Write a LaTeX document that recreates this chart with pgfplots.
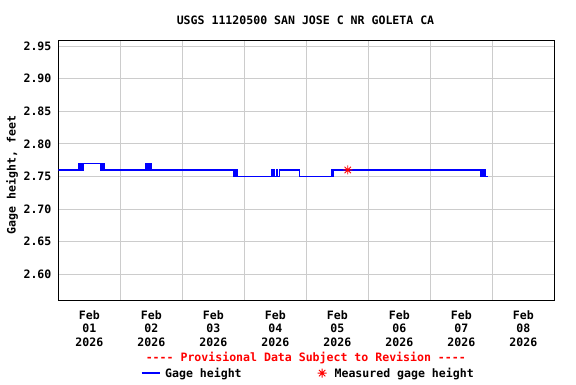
\documentclass[border=0pt]{standalone}
\usepackage{fontspec}
\setmainfont{DejaVu Sans Mono}[Ligatures=TeXOff]
\usepackage{pgfplots}
\pgfplotsset{compat=1.18}
\definecolor{gridgray}{RGB}{204,204,204}
\pgfdeclareplotmark{ast8}{%
  \pgfpathmoveto{\pgfqpoint{-\pgfplotmarksize}{0pt}}\pgfpathlineto{\pgfqpoint{\pgfplotmarksize}{0pt}}%
  \pgfpathmoveto{\pgfqpoint{0pt}{-\pgfplotmarksize}}\pgfpathlineto{\pgfqpoint{0pt}{\pgfplotmarksize}}%
  \pgfpathmoveto{\pgfqpoint{-0.707\pgfplotmarksize}{-0.707\pgfplotmarksize}}\pgfpathlineto{\pgfqpoint{0.707\pgfplotmarksize}{0.707\pgfplotmarksize}}%
  \pgfpathmoveto{\pgfqpoint{-0.707\pgfplotmarksize}{0.707\pgfplotmarksize}}\pgfpathlineto{\pgfqpoint{0.707\pgfplotmarksize}{-0.707\pgfplotmarksize}}%
  \pgfusepathqstroke}
\begin{document}
\begin{tikzpicture}[x=1bp,y=1bp,font=\fontsize{11.6}{13.5}\selectfont\bfseries]
\path[use as bounding box] (0,0) rectangle (576,384);
\begin{axis}[
  at={(58.4bp,84bp)}, anchor=south west,
  scale only axis, width=495.9bp, height=260bp,
  xmin=0, xmax=8, ymin=2.5606, ymax=2.9592,
  axis line style={black, line width=0.9bp},
  xtick={0.5,1.5,2.5,3.5,4.5,5.5,6.5,7.5},
  xticklabels={{Feb\\01\\2026},{Feb\\02\\2026},{Feb\\03\\2026},{Feb\\04\\2026},{Feb\\05\\2026},{Feb\\06\\2026},{Feb\\07\\2026},{Feb\\08\\2026}},
  xticklabel style={align=center, yshift=-7bp},
  minor xtick={1,2,3,4,5,6,7},
  xminorgrids=true, xmajorgrids=false, ymajorgrids=true,
  grid style={gridgray, line width=0.9bp},
  minor grid style={gridgray, line width=0.9bp},
  ytick={2.60,2.65,2.70,2.75,2.80,2.85,2.90,2.95},
  yticklabel style={/pgf/number format/fixed, /pgf/number format/fixed zerofill, /pgf/number format/precision=2, xshift=-3.5bp},
  /pgf/number format/assume math mode=true,
  major tick length=0pt, minor tick length=0pt,
  legend style={draw=none, fill=none, inner sep=0pt, at={(0.166,-0.281)}, anchor=west, legend columns=2,
    /tikz/every odd column/.append style={column sep=3bp},
    /tikz/every even column/.append style={column sep=71bp}},
  legend cell align=left,
]
\addplot[const plot, blue, line width=1.25bp,
  legend image code/.code={\draw[blue, line width=1.25bp] (0bp,0bp) -- (18bp,0bp);}] coordinates {
(0,2.76) (0.333,2.77) (0.344,2.76) (0.354,2.77) (0.365,2.76) (0.375,2.77) (0.385,2.76) (0.396,2.77)
(0.683,2.76) (0.693,2.77) (0.703,2.76) (0.714,2.77) (0.724,2.76) (0.734,2.77) (0.745,2.76)
(1.415,2.77) (1.425,2.76) (1.435,2.77) (1.446,2.76) (1.456,2.77) (1.467,2.76) (1.490,2.77) (1.500,2.76)
(2.826,2.75) (2.836,2.76) (2.846,2.75) (2.857,2.76) (2.867,2.75) (2.878,2.76) (2.888,2.75)
(3.435,2.76) (3.445,2.75) (3.467,2.76) (3.477,2.75) (3.516,2.76) (3.526,2.75) (3.564,2.76)
(3.892,2.75) (4.415,2.76) (4.425,2.75) (4.441,2.76)
(6.811,2.75) (6.821,2.76) (6.831,2.75) (6.842,2.76) (6.852,2.75) (6.862,2.76) (6.873,2.75) (6.883,2.76) (6.893,2.75)
(6.929,2.75)
};
\addlegendentry{Gage height}
\addplot[only marks, red, mark=ast8, mark size=4.5bp, line width=0.9bp,
  legend image code/.code={\path (0bp,0bp) (14bp,0bp); \draw[red, mark=ast8, mark size=4.5bp, line width=0.9bp] plot coordinates {(7bp,0bp)};}] coordinates {(4.668,2.76)};
\addlegendentry{Measured gage height}
\end{axis}
\node at (305.5,364) {USGS 11120500 SAN JOSE C NR GOLETA CA};
\node[rotate=90] at (12,209) {Gage height, feet};
\node[red] at (305.8,26) {---- Provisional Data Subject to Revision ----};
\end{tikzpicture}
\end{document}
